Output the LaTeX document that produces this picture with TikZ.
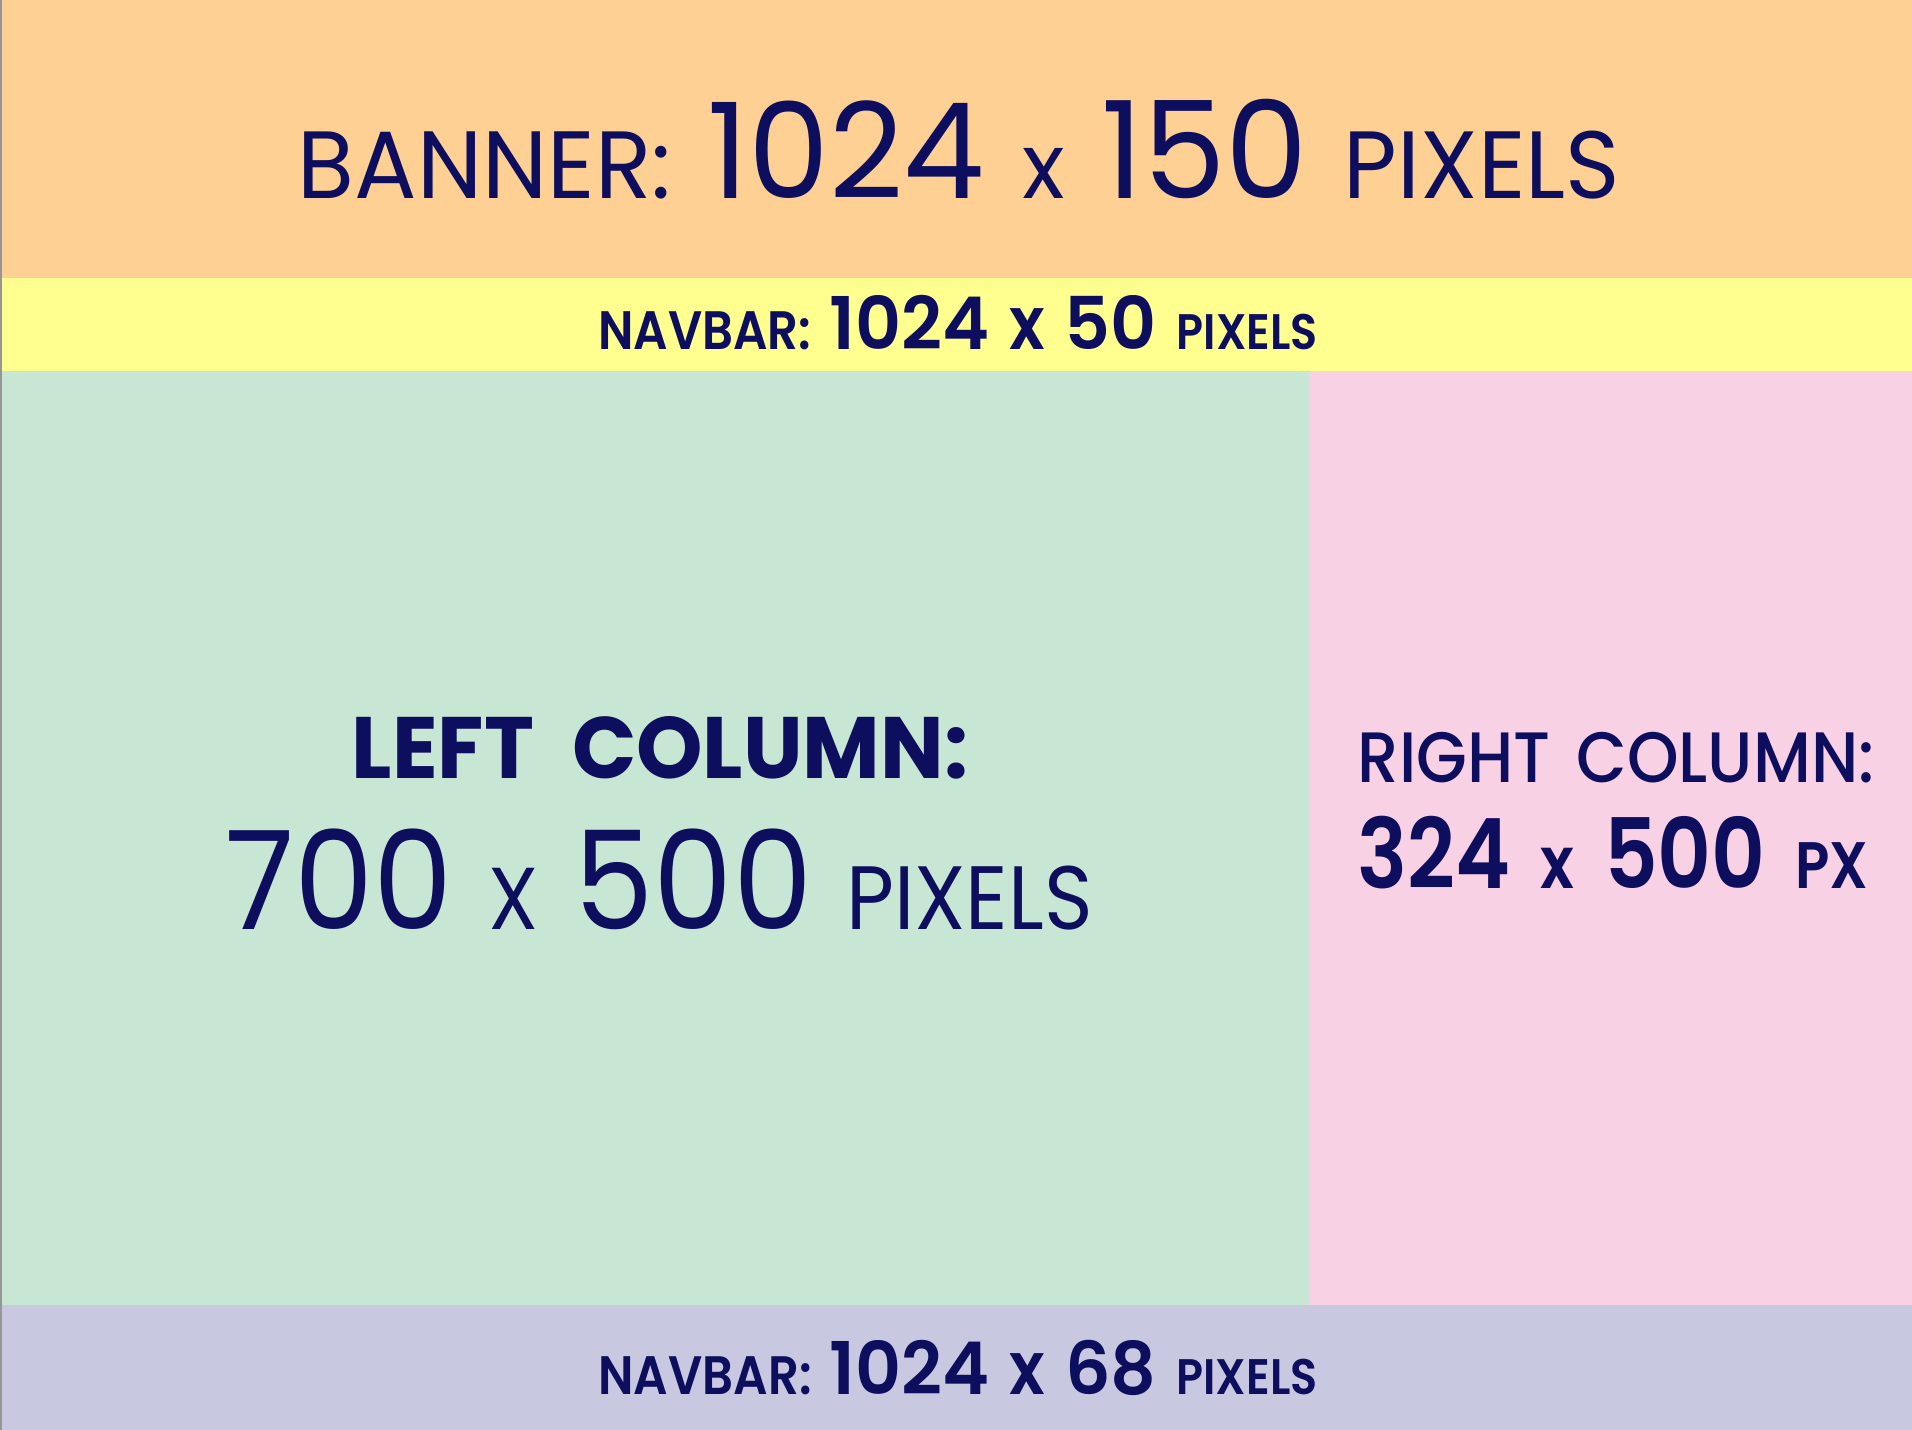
\documentclass[tikz,border=0pt]{standalone}
\usepackage{fontspec}
\usepackage{xcolor}
\usetikzlibrary{positioning}
\newfontfamily\bannerfont{Poppins}[FakeStretch=0.97]
\newfontfamily\sizefont{Poppins}[FakeStretch=0.92]
\newfontfamily\medfont{Poppins Medium}[FakeStretch=0.92]
\newfontfamily\navwords{Poppins SemiBold}[FakeStretch=0.89]
\newfontfamily\navdigits{Poppins SemiBold}[FakeStretch=0.98]
\newfontfamily\boldfont{Poppins SemiBold}[FakeStretch=0.86]
\newfontfamily\titlefont{Poppins Bold}[FakeStretch=0.97]
\newcommand{\sz}[1]{\fontsize{#1}{#1}\selectfont}
\definecolor{bannerpeach}{RGB}{255,208,147}
\definecolor{navyellow}{RGB}{255,255,143}
\definecolor{leftgreen}{RGB}{200,230,212}
\definecolor{rightpink}{RGB}{249,209,228}
\definecolor{footlavender}{RGB}{200,200,224}
\definecolor{edgegray}{RGB}{150,150,150}
\definecolor{labelnavy}{RGB}{14,14,94}

\begin{document}
\begin{tikzpicture}[
  region/.style = {anchor=north west, inner sep=0pt, outer sep=0pt, draw=none},
  label/.style  = {anchor=base, inner sep=0pt, text=labelnavy},
]
\useasboundingbox (0,0) rectangle (19.12,-14.30);

%% ==================== REGIONS ====================
\node[region, fill=bannerpeach, minimum width=19.12cm, minimum height=2.78cm] (banner) at (0,0) {};
\node[region, fill=navyellow, minimum width=19.12cm, minimum height=0.93cm] (navtop) at (banner.south west) {};
\node[region, fill=leftgreen, minimum width=13.09cm, minimum height=9.34cm] (leftcol) at (navtop.south west) {};
\node[region, fill=rightpink, minimum width=6.03cm, minimum height=9.34cm] (rightcol) at (leftcol.north east) {};
\node[region, fill=footlavender, minimum width=19.12cm, minimum height=1.25cm] (navbottom) at (leftcol.south west) {};

%% thin gray edge on the left
\fill[edgegray] (0,0) rectangle (0.02,-14.30);

%% ==================== LABELS ====================
\node[label] (bannertext) at (9.59,-1.99)
      {\bannerfont\sz{27.2}BANNER:\hspace{0.36cm}\sz{37.8}1024\hspace{0.38cm}\sz{26}x\hspace{0.36cm}\sz{38.5}150\hspace{0.36cm}\sz{27.2}PIXELS};

\node[label] (navtoptext) at (9.58,-3.50)
      {\navwords\sz{15.4}NAVBAR:\hspace{0.18cm}\navdigits\sz{20.7}1024\hspace{0.2cm}\navwords\sz{21}x\hspace{0.2cm}\navdigits\sz{20.7}50\hspace{0.2cm}\navwords\sz{14.2}PIXELS};

%% Left column, two lines
\node[label] (lefttitle) at (6.60,-7.78)
      {\titlefont\sz{24.8}LEFT\hspace{0.38cm}COLUMN:};
\node[label] (leftsize) at (6.59,-9.29)
      {\sizefont\sz{39}700\hspace{0.36cm}\sz{25}X\hspace{0.36cm}\sz{39}500\hspace{0.34cm}\sz{25.6}PIXELS};

%% Right column, two lines
\node[label] (righttitle) at (16.16,-7.82)
      {\medfont\sz{20.3}RIGHT\hspace{0.26cm}COLUMN:};
\node[label] (rightsize) at (16.13,-8.88)
      {\boldfont\sz{27.6}324\hspace{0.3cm}\sz{20.7}x\hspace{0.3cm}\sz{27.6}500\hspace{0.3cm}\sz{18.7}PX};

\node[label] (navbottomtext) at (9.58,-13.94)
      {\navwords\sz{15.4}NAVBAR:\hspace{0.18cm}\navdigits\sz{20.7}1024\hspace{0.2cm}\navwords\sz{21}x\hspace{0.2cm}\navdigits\sz{20.7}68\hspace{0.2cm}\navwords\sz{14.2}PIXELS};

\end{tikzpicture}
\end{document}
